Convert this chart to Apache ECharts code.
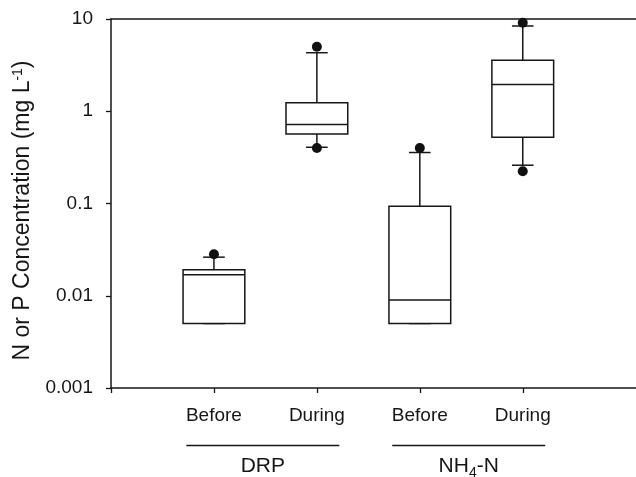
<!DOCTYPE html>
<html>
<head>
<meta charset="utf-8">
<script src="https://cdn.jsdelivr.net/npm/echarts@6/dist/echarts.min.js"></script>
<style>
  html, body { margin: 0; padding: 0; background: #fff; }
  #chart { width: 636px; height: 477px; }
</style>
</head>
<body>
<div id="chart"></div>
<script>
// box positions on the x axis and their labels
const positions = [1, 2, 3, 4]
const categories = ['Before', 'During', 'Before', 'During']

// box statistics (mg/L)
const whiskerLow = [0.005, 0.407, 0.005, 0.26]
const q1 = [0.005, 0.568, 0.005, 0.523]
const median = [0.0169, 0.718, 0.009, 1.945]
const q3 = [0.0191, 1.24, 0.0935, 3.57]
const whiskerHigh = [0.0262, 4.31, 0.357, 8.4]

// outlier points [position, value]
const outliers = [[1, 0.0282], [2, 5.0], [2, 0.40], [3, 0.40], [4, 9.1], [4, 0.224]]

// groups under the axis
const groupNames = ['DRP', '{a|NH}{sub|4}{a|-N}']
const groupCenters = [1.475, 3.475]

const yTicks = [0.001, 0.01, 0.1, 1, 10]

const FONT = 'Liberation Sans, Arial, Helvetica, sans-serif'
const INK = '#161616'
const BOX_W = 0.6
const CAP_W = 0.21

let boxData = positions.map((p, i) => [p, whiskerLow[i], q1[i], median[i], q3[i], whiskerHigh[i]])

function renderBox(params, api) {
    let x = api.value(0)
    let yLow = api.coord([x, api.value(1)])[1]
    let yQ1 = api.coord([x, api.value(2)])[1]
    let yMed = api.coord([x, api.value(3)])[1]
    let yQ3 = api.coord([x, api.value(4)])[1]
    let yHigh = api.coord([x, api.value(5)])[1]
    let cx = api.coord([x, 1])[0]
    let left = api.coord([x - BOX_W / 2, 1])[0]
    let right = api.coord([x + BOX_W / 2, 1])[0]
    let capL = api.coord([x - CAP_W / 2, 1])[0]
    let capR = api.coord([x + CAP_W / 2, 1])[0]
    let ls = { stroke: INK, lineWidth: 1.5, fill: null }
    return {
        type: 'group',
        children: [
            { type: 'line', shape: { x1: cx, y1: yQ3, x2: cx, y2: yHigh }, style: ls },
            { type: 'line', shape: { x1: capL, y1: yHigh, x2: capR, y2: yHigh }, style: ls },
            { type: 'line', shape: { x1: cx, y1: yQ1, x2: cx, y2: yLow }, style: ls },
            { type: 'line', shape: { x1: capL, y1: yLow, x2: capR, y2: yLow }, style: ls },
            { type: 'rect', shape: { x: left, y: yQ3, width: right - left, height: yQ1 - yQ3 },
              style: { fill: '#fff', stroke: INK, lineWidth: 1.5 } },
            { type: 'line', shape: { x1: left, y1: yMed, x2: right, y2: yMed }, style: ls }
        ]
    }
}

function renderGroup(params, api) {
    let c = api.value(0)
    let base = api.coord([c, 0.001])
    let l = api.coord([c - 0.743, 0.001])[0]
    let r = api.coord([c + 0.743, 0.001])[0]
    let ly = Math.round(base[1] + 57) + 0.5
    return {
        type: 'group',
        children: [
            { type: 'line', shape: { x1: l, y1: ly, x2: r, y2: ly },
              style: { stroke: INK, lineWidth: 1.3 } },
            { type: 'text',
              style: {
                  text: groupNames[params.dataIndex],
                  x: base[0], y: base[1] + 78,
                  align: 'center', verticalAlign: 'middle',
                  fontSize: 21, fontFamily: FONT, fill: INK,
                  rich: {
                      a: { fontSize: 21, fontFamily: FONT, fill: INK },
                      sub: { fontSize: 14, fontFamily: FONT, fill: INK, verticalAlign: 'bottom', padding: [0, 0, -4, 0] }
                  }
              } }
        ]
    }
}

let chart = echarts.init(document.getElementById('chart'), null, { renderer: 'canvas' })

let option = {
    animation: false,
    backgroundColor: '#fff',
    grid: { left: 111, right: 0, top: 19, bottom: 89 },
    xAxis: [
        {
            type: 'value',
            min: 0,
            max: 5.1,
            interval: 1,
            axisLine: { lineStyle: { color: INK, width: 1.5 } },
            axisTick: { length: 5, lineStyle: { color: INK, width: 1.3 }, customValues: [0].concat(positions) },
            axisLabel: {
                customValues: positions,
                margin: 18,
                fontSize: 19,
                fontFamily: FONT,
                color: INK,
                formatter: v => categories[positions.indexOf(v)] || ''
            },
            splitLine: { show: false }
        },
        {
            type: 'value',
            position: 'top',
            min: 0,
            max: 5.1,
            axisLine: { show: true, lineStyle: { color: INK, width: 1.5 } },
            axisTick: { show: false },
            axisLabel: { show: false },
            splitLine: { show: false }
        }
    ],
    yAxis: {
        type: 'log',
        logBase: 10,
        min: 0.001,
        max: 10,
        name: 'N or P Concentration (mg L{sup|-1})',
        nameLocation: 'middle',
        nameGap: 74,
        nameTextStyle: {
            fontSize: 23,
            fontFamily: FONT,
            color: INK,
            padding: [0, 14, 0, 0],
            rich: {
                sup: { fontSize: 14, fontFamily: FONT, color: INK, verticalAlign: 'top', padding: [0, 0, 6, 0] }
            }
        },
        axisLine: { show: true, lineStyle: { color: INK, width: 1.5 } },
        axisTick: { length: 5, lineStyle: { color: INK, width: 1.3 }, customValues: yTicks },
        axisLabel: {
            customValues: yTicks,
            margin: 18,
            fontSize: 19,
            fontFamily: FONT,
            color: INK,
            formatter: v => String(v)
        },
        splitLine: { show: false },
        minorTick: { show: false }
    },
    series: [
        {
            type: 'custom',
            clip: false,
            renderItem: renderBox,
            encode: { x: 0, y: [1, 2, 3, 4, 5] },
            data: boxData,
            z: 2
        },
        {
            type: 'scatter',
            symbol: 'circle',
            symbolSize: 10,
            itemStyle: { color: '#111', opacity: 1 },
            data: outliers,
            z: 3
        },
        {
            type: 'custom',
            clip: false,
            renderItem: renderGroup,
            encode: { x: 0, y: 1 },
            data: groupCenters.map(c => [c, 0.001]),
            z: 1
        }
    ]
}

chart.setOption(option)
</script>
</body>
</html>
